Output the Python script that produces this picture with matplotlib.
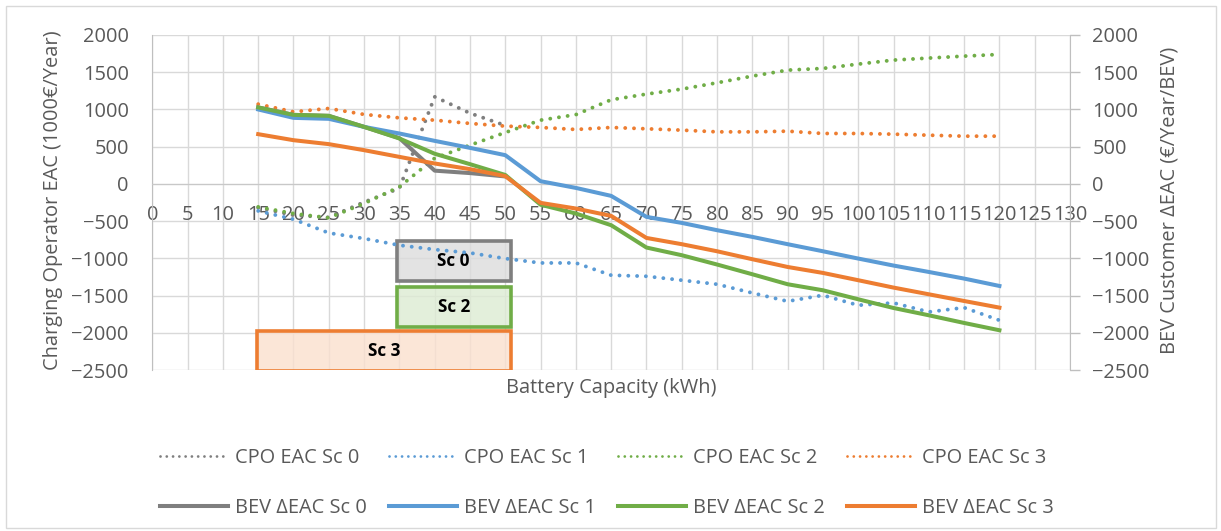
import matplotlib
matplotlib.use("Agg")
import matplotlib.pyplot as plt
from matplotlib.patches import Rectangle

# ---------------- data ----------------
capacity = [15, 20, 25, 30, 35, 40, 45, 50, 55, 60, 65, 70, 75, 80, 85, 90, 95, 100, 105, 110, 115, 120]
capacity_sc0 = [15, 20, 25, 30, 35, 40, 45, 50]

cpo_sc0 = [-320, -420, -450, -245, -60, 1170, 950, 785]
cpo_sc1 = [-363, -475, -659, -734, -824, -882, -927, -1003, -1062, -1062, -1227, -1241,
           -1294, -1348, -1465, -1577, -1496, -1630, -1599, -1720, -1662, -1832]
cpo_sc2 = [-309, -398, -457, -263, -40, 345, 520, 690, 856, 930, 1130, 1206,
           1273, 1358, 1448, 1528, 1551, 1609, 1663, 1690, 1716, 1739]
cpo_sc3 = [1071, 968, 1013, 933, 887, 856, 812, 776, 758, 731, 758, 740,
           722, 699, 699, 708, 677, 677, 668, 654, 641, 641]

bev_sc0 = [1027, 927, 914, 766, 615, 178, 145, 100]
bev_sc1 = [1000, 887, 874, 766, 677, 578, 484, 386, 36, -54, -161, -443,
           -524, -622, -712, -810, -905, -1003, -1097, -1183, -1272, -1371]
bev_sc2 = [1027, 927, 914, 766, 610, 405, 265, 120, -280, -398, -555, -855,
           -958, -1083, -1214, -1348, -1429, -1550, -1667, -1765, -1868, -1966]
bev_sc3 = [668, 587, 534, 453, 363, 274, 198, 104, -255, -331, -430, -726,
           -810, -905, -1012, -1116, -1196, -1294, -1393, -1483, -1573, -1662]

x_ticks = list(range(0, 131, 5))
y_ticks = list(range(-2500, 2001, 500))

# scenario boxes: (label, x-range, y-range)
box_labels = ["Sc 0", "Sc 2", "Sc 3"]
box_x = [(34.6, 50.8), (34.6, 50.8), (14.9, 50.8)]
box_y = [(-1298, -771), (-1917, -1384), (-2517, -1976)]

# ---------------- style ----------------
GRAY, BLUE, GREEN, ORANGE = "#7F7F7F", "#5B9BD5", "#70AD47", "#ED7D31"
TXT = "#595959"
GRID = "#D9D9D9"
FS = 14.4
plt.rcParams["font.family"] = ["Open Sans", "DejaVu Sans"]

W, H = 1221, 531
fig = plt.figure(figsize=(W / 100, H / 100), dpi=100)
L, R, T, B = 152.3, 1070, 35, 370
ax = fig.add_axes([L / W, 1 - B / H, (R - L) / W, (B - T) / H])

ax.set_xlim(0, 130)
ax.set_ylim(-2500, 2000)
ax.set_xticks(x_ticks)
ax.set_yticks(y_ticks)
ax.grid(True, color=GRID, linewidth=1.0, zorder=0)
ax.set_axisbelow(True)

for s in ["top", "right"]:
    ax.spines[s].set_visible(False)
ax.spines["left"].set_color("#BFBFBF")
ax.spines["bottom"].set_position(("data", 0))
ax.spines["bottom"].set_color("#C8C8C8")
ax.tick_params(axis="x", length=0, pad=15, labelsize=FS, labelcolor=TXT)
ax.tick_params(axis="y", length=0, pad=17, labelsize=FS, labelcolor=TXT)

dot = (0, (0.01, 2.25))
lw_d, lw_s = 2.8, 2.9
kw_d = dict(lw=lw_d, ls=dot, dash_capstyle="round", zorder=3)
l_c0, = ax.plot(capacity_sc0, cpo_sc0, color=GRAY, **kw_d)
l_c1, = ax.plot(capacity, cpo_sc1, color=BLUE, **kw_d)
l_c2, = ax.plot(capacity, cpo_sc2, color=GREEN, **kw_d)
l_c3, = ax.plot(capacity, cpo_sc3, color=ORANGE, **kw_d)
l_b0, = ax.plot(capacity_sc0, bev_sc0, color=GRAY, lw=lw_s, zorder=4)
l_b1, = ax.plot(capacity, bev_sc1, color=BLUE, lw=lw_s, zorder=4)
l_b2, = ax.plot(capacity, bev_sc2, color=GREEN, lw=lw_s, zorder=4)
l_b3, = ax.plot(capacity, bev_sc3, color=ORANGE, lw=lw_s, zorder=4)

faces = ["#DCDCDC", "#DDEBD3", "#FAE0CE"]
edges = [GRAY, GREEN, ORANGE]
for lab, (x0, x1), (y0, y1), fc, ec in zip(box_labels, box_x, box_y, faces, edges):
    ax.add_patch(Rectangle((x0, y0), x1 - x0, y1 - y0, facecolor=fc, edgecolor="none",
                           alpha=0.8, zorder=2))
    ax.add_patch(Rectangle((x0, y0), x1 - x0, y1 - y0, facecolor="none", edgecolor=ec,
                           lw=2.6, zorder=2.1))
    ax.text((x0 + x1) / 2, (y0 + y1) / 2, lab, ha="center", va="center",
            fontsize=12.3, fontweight="bold", color="black", zorder=2.2)

ax2 = ax.twinx()
ax2.set_ylim(-2500, 2000)
ax2.set_yticks(y_ticks)
for s in ["top", "left", "bottom"]:
    ax2.spines[s].set_visible(False)
ax2.spines["right"].set_color("#BFBFBF")
ax2.tick_params(axis="y", length=7, width=1, color="#BFBFBF", pad=9,
                labelsize=FS, labelcolor=TXT)

fig.text(53 / W, 1 - 200 / H, "Charging Operator EAC (1000€/Year)", rotation=90,
         ha="center", va="center", fontsize=FS, color=TXT)
fig.text(1170 / W, 1 - 200 / H, "BEV Customer ΔEAC (€/Year/BEV)", rotation=90,
         ha="center", va="center", fontsize=FS, color=TXT)
fig.text(611 / W, 1 - 388 / H, "Battery Capacity (kWh)", ha="center", va="center",
         fontsize=FS, color=TXT)

handles = [l_c0, l_b0, l_c1, l_b1, l_c2, l_b2, l_c3, l_b3]
labels = ["CPO EAC Sc 0", "BEV ΔEAC Sc 0", "CPO EAC Sc 1", "BEV ΔEAC Sc 1",
          "CPO EAC Sc 2", "BEV ΔEAC Sc 2", "CPO EAC Sc 3", "BEV ΔEAC Sc 3"]
leg = fig.legend(handles, labels, ncol=4, loc="center",
                 bbox_to_anchor=(607 / W, 1 - 483 / H), frameon=False,
                 fontsize=FS, handlelength=3.4, handletextpad=0.35,
                 columnspacing=1.1, labelspacing=1.5)
for t in leg.get_texts():
    t.set_color(TXT)
for h in leg.legend_handles[0::2]:
    h.set_linewidth(2.0)

fig.add_artist(Rectangle((6 / W, 1 - 528 / H), 1209.5 / W, 522 / H,
                         transform=fig.transFigure, facecolor="none",
                         edgecolor="#D9D9D9", lw=1.0))

fig.savefig("out.png", dpi=100)
